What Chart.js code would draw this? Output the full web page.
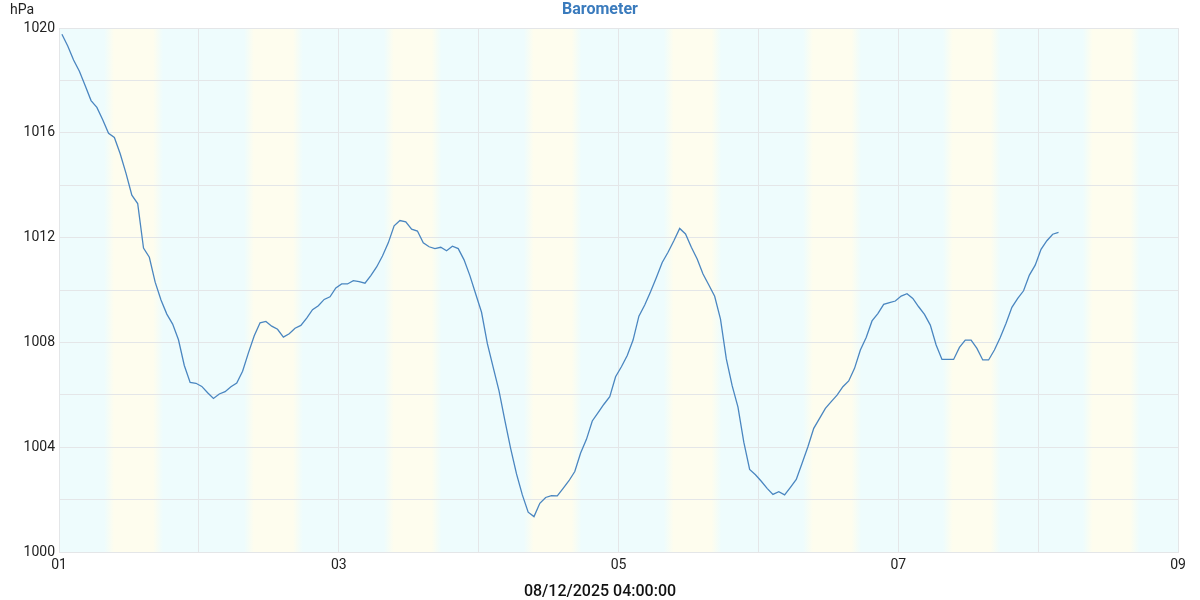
<!DOCTYPE html>
<html>
<head>
<meta charset="utf-8">
<script src="https://cdn.jsdelivr.net/npm/chart.js@4"></script>
<style>
  html, body { margin: 0; padding: 0; background: #fff; }
  #wrap { width: 1200px; height: 600px; position: relative; }
</style>
</head>
<body>
<div id="wrap"><canvas id="baro"></canvas></div>
<script>
// hourly readings, hours counted from 00:00 on day 01
const startHour = 0.5;
const stepHours = 1;
const pressure = [
  1019.76, 1019.31, 1018.78, 1018.35, 1017.8, 1017.23, 1016.97, 1016.5, 1015.98, 1015.82,
  1015.2, 1014.45, 1013.62, 1013.3, 1011.6, 1011.25, 1010.3, 1009.62, 1009.08, 1008.7,
  1008.1, 1007.12, 1006.47, 1006.44, 1006.32, 1006.08, 1005.86, 1006.03, 1006.12, 1006.31,
  1006.45, 1006.9, 1007.6, 1008.25, 1008.75, 1008.8, 1008.62, 1008.5, 1008.2, 1008.33,
  1008.54, 1008.65, 1008.93, 1009.25, 1009.4, 1009.64, 1009.74, 1010.08, 1010.23, 1010.23,
  1010.36, 1010.32, 1010.26, 1010.55, 1010.88, 1011.3, 1011.8, 1012.45, 1012.65, 1012.6,
  1012.32, 1012.25, 1011.8, 1011.65, 1011.58, 1011.63, 1011.5, 1011.67, 1011.58, 1011.15,
  1010.55, 1009.85, 1009.15, 1007.95, 1007.05, 1006.15, 1005.02, 1003.95, 1002.98, 1002.18,
  1001.52, 1001.35, 1001.86, 1002.08, 1002.15, 1002.14, 1002.43, 1002.72, 1003.07, 1003.78,
  1004.3, 1005.0, 1005.32, 1005.64, 1005.93, 1006.69, 1007.07, 1007.5, 1008.09, 1009.0,
  1009.43, 1009.93, 1010.48, 1011.05, 1011.44, 1011.88, 1012.35, 1012.14, 1011.63, 1011.18,
  1010.61, 1010.19, 1009.76, 1008.89, 1007.37, 1006.35, 1005.53, 1004.19, 1003.15, 1002.95,
  1002.7, 1002.43, 1002.2, 1002.3, 1002.18, 1002.47, 1002.77, 1003.39, 1004.02, 1004.72,
  1005.1, 1005.48, 1005.74, 1005.99, 1006.31, 1006.53, 1007.01, 1007.71, 1008.19, 1008.82,
  1009.1, 1009.45, 1009.52, 1009.58, 1009.77, 1009.86, 1009.68, 1009.36, 1009.07, 1008.66,
  1007.9, 1007.35, 1007.35, 1007.35, 1007.81, 1008.09, 1008.09, 1007.77, 1007.33, 1007.33,
  1007.71, 1008.19, 1008.73, 1009.34, 1009.68, 1009.97, 1010.57, 1010.95, 1011.55, 1011.88,
  1012.13, 1012.2
];
const dayLabels = ["01", "02", "03", "04", "05", "06", "07", "08", "09"];

// daylight bands (hours from start), drawn yellow; the rest is night (cyan)
const dayStart = [8.6, 32.6, 56.6, 80.6, 104.6, 128.5, 152.5, 176.5];
const dayEnd = [17.0, 41.0, 64.8, 88.8, 112.8, 136.8, 160.7, 184.6];

const chartTitle = "Barometer";
const unitLabel = "hPa";
const stampLabel = "08/12/2025 04:00:00";

const points = pressure.map((p, i) => ({ x: startHour + i * stepHours, y: p }));

const nightColor = "rgb(238,252,253)";
const dayColor = "rgb(254,253,238)";

// paints the night/day background behind the grid
const bandPlugin = {
  id: "bands",
  beforeDraw(chart) {
    const { ctx, chartArea, scales } = chart;
    const { left, right, top, bottom } = chartArea;
    ctx.save();
    ctx.fillStyle = nightColor;
    ctx.fillRect(left, top, right - left, bottom - top);
    const fade = 5;
    dayStart.forEach((s, i) => {
      let x0 = scales.x.getPixelForValue(s);
      let x1 = scales.x.getPixelForValue(dayEnd[i]);
      x0 = Math.max(left, x0);
      x1 = Math.min(right, x1);
      if (x1 <= x0) return;
      const g = ctx.createLinearGradient(x0 - fade, 0, x1 + fade, 0);
      const w = x1 - x0 + 2 * fade;
      g.addColorStop(0, nightColor);
      g.addColorStop((2 * fade) / w, dayColor);
      g.addColorStop(1 - (2 * fade) / w, dayColor);
      g.addColorStop(1, nightColor);
      ctx.fillStyle = g;
      const a = Math.max(left, x0 - fade);
      const b = Math.min(right, x1 + fade);
      ctx.fillRect(a, top, b - a, bottom - top);
    });
    ctx.restore();
  },
};

// title, unit and timestamp texts around the plot
const textPlugin = {
  id: "texts",
  afterDraw(chart) {
    const { ctx, width, height } = chart;
    ctx.save();
    ctx.textBaseline = "middle";

    ctx.fillStyle = "#222";
    ctx.font = "14px Roboto";
    ctx.textAlign = "left";
    ctx.fillText(unitLabel, 10, 10);

    ctx.fillStyle = "#3a7bbd";
    ctx.font = "bold 16px Roboto";
    ctx.textAlign = "center";
    ctx.fillText(chartTitle, width / 2, 10);

    ctx.fillStyle = "#111";
    ctx.font = "500 16px Roboto";
    ctx.fillText(stampLabel, width / 2, height - 8);
    ctx.restore();
  },
};

const gridColor = "#e4e6e8";

new Chart(document.getElementById("baro"), {
  type: "line",
  data: {
    datasets: [
      {
        label: chartTitle,
        data: points,
        borderColor: "#4a86c0",
        borderWidth: 1.3,
        pointRadius: 0,
        tension: 0,
        fill: false,
      },
    ],
  },
  options: {
    responsive: true,
    maintainAspectRatio: false,
    animation: false,
    layout: { padding: { top: 28, right: 22, left: 0, bottom: 0 } },
    plugins: {
      legend: { display: false },
      tooltip: { enabled: false },
      title: { display: false },
    },
    scales: {
      x: {
        type: "linear",
        min: 0,
        max: 192,
        afterFit(scale) {
          scale.height = 48;
        },
        grid: { color: gridColor, drawTicks: false },
        border: { color: gridColor },
        ticks: {
          stepSize: 24,
          autoSkip: false,
          maxRotation: 0,
          padding: 5,
          color: "#222",
          font: { family: "Roboto", size: 14 },
          callback: (v) => (v % 48 === 0 ? dayLabels[v / 24] : ""),
        },
      },
      y: {
        min: 1000,
        max: 1020,
        afterFit(scale) {
          scale.width = 59;
        },
        grid: { color: gridColor, drawTicks: false },
        border: { color: gridColor },
        ticks: {
          stepSize: 2,
          padding: 4,
          color: "#222",
          font: { family: "Roboto", size: 14 },
          callback: (v) => (v % 4 === 0 ? v : ""),
        },
      },
    },
  },
  plugins: [bandPlugin, textPlugin],
});
</script>
</body>
</html>
